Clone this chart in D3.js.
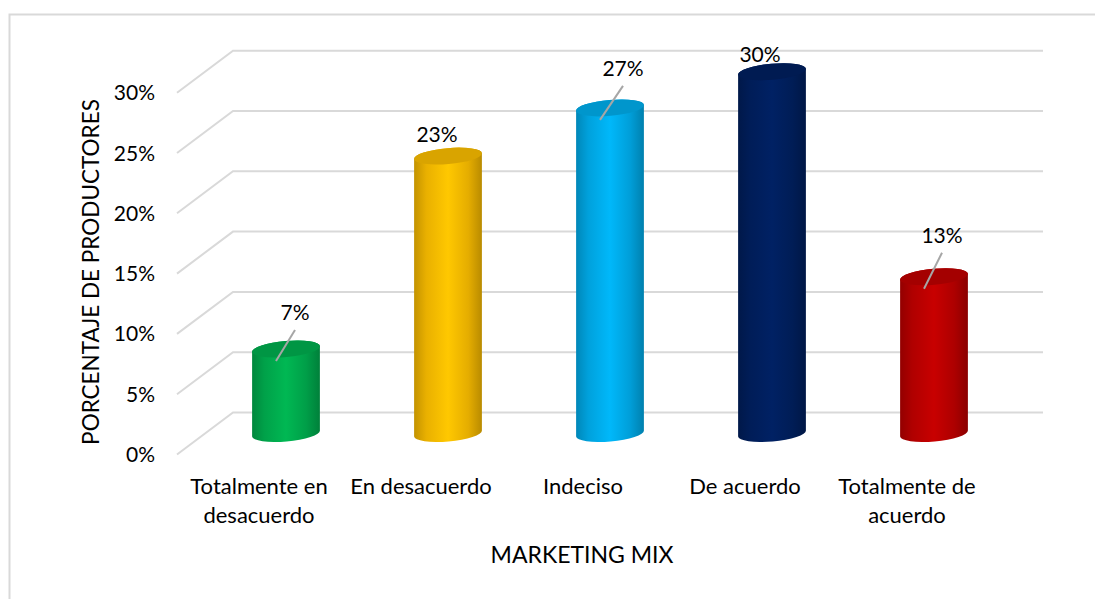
<!DOCTYPE html>
<html>
<head>
<meta charset="utf-8">
<script src="https://cdn.jsdelivr.net/npm/d3@7"></script>
<style>
  body { margin: 0; background: #fff; }
  svg text { font-family: Lato, "Open Sans", sans-serif; fill: #000; }
</style>
</head>
<body>
<svg id="chart" width="1095" height="599"></svg>
<script>
"use strict";

// data
var categories = [ ["Totalmente en", "desacuerdo"], ["En desacuerdo"], ["Indeciso"], ["De acuerdo"], ["Totalmente de", "acuerdo"] ];
var values = [ 0.07, 0.23, 0.27, 0.30, 0.13 ];
var valueLabels = [ "7%", "23%", "27%", "30%", "13%" ];
var tickValues = [ 0, 0.05, 0.10, 0.15, 0.20, 0.25, 0.30 ];
var tickLabels = [ "0%", "5%", "10%", "15%", "20%", "25%", "30%" ];
var barColors = [ "#00b050", "#ffc000", "#00b0f0", "#002060", "#c00000" ];

// label placement tweaks (as in the original, labels were dragged by hand)
var labelDx = [ 9, -11, 13, -12, 8 ];
var labelDy = [ -29, -14, -32, -10, -34 ];
var showLeader = [ true, false, true, false, true ];

var svg = d3.select("#chart");
var defs = svg.append("defs");

// depth of the 3d floor
var depthX = 56, depthY = -42;

var y = d3.scaleLinear().domain( [0, 0.30] ).range( [412.5, 50.7] );
var x = d3.scaleBand().domain( d3.range(categories.length) ).range( [177, 987] );

// frame
svg.append("rect")
  .attr( "x", 9.5 ).attr( "y", 14.5 )
  .attr( "width", 1200 ).attr( "height", 700 )
  .style( "fill", "none" )
  .style( "stroke", "#d9d9d9" )
  .style( "stroke-width", 2 );

// gridlines: side wall diagonal + back wall
var grid = svg.append("g");
grid.selectAll("path")
  .data( tickValues )
  .enter().append("path")
  .attr( "d", function(t) {
    return "M177," + (y(t) - depthY) + "L" + (177 + depthX) + "," + y(t) + "L1043," + y(t);
  })
  .style( "fill", "none" )
  .style( "stroke", "#d9d9d9" )
  .style( "stroke-width", 2 );

// tick labels
svg.append("g").selectAll("text")
  .data( tickValues )
  .enter().append("text")
  .attr( "x", 155 )
  .attr( "y", function(t) { return y(t) - depthY + 7.5 })
  .attr( "text-anchor", "end" )
  .style( "font-size", "21px" )
  .text( function(d, i) { return tickLabels[i] });

// cylinders
var rx = x.bandwidth() * 0.21, ry = 8, tilt = -5;
var cosT = Math.cos( tilt * Math.PI / 180 ), sinT = Math.sin( tilt * Math.PI / 180 );

function cx(i) { return x(i) + x.bandwidth() / 2 + depthX / 2 }
function cyv(v) { return y(v) - depthY / 2 }

barColors.forEach( function(c, i) {
  var base = d3.color(c);
  var g = defs.append("linearGradient")
    .attr( "id", "grad" + i )
    .attr( "x1", "0%" ).attr( "x2", "100%" )
    .attr( "y1", "0%" ).attr( "y2", "0%" );
  var stops = [
    [0, base.darker(0.75)],
    [0.18, base.darker(0.25)],
    [0.5, base.brighter(0.12)],
    [0.8, base.darker(0.3)],
    [1, base.darker(0.9)]
  ];
  g.selectAll("stop").data( stops ).enter().append("stop")
    .attr( "offset", function(d) { return d[0] } )
    .attr( "stop-color", function(d) { return d[1].formatHex() } );
});

var bars = svg.append("g").selectAll("g")
  .data( values )
  .enter().append("g");

bars.append("path")
  .attr( "d", function(v, i) {
    var c = cx(i), top = cyv(v), bot = cyv(0);
    var lx = c - rx * cosT, ly = -rx * sinT, rxp = c + rx * cosT;
    return "M" + lx + "," + (top + ly) +
      "L" + lx + "," + (bot + ly) +
      "A" + rx + "," + ry + " " + tilt + " 0 0 " + rxp + "," + (bot - ly) +
      "L" + rxp + "," + (top - ly) +
      "A" + rx + "," + ry + " " + tilt + " 0 0 " + lx + "," + (top + ly) + "Z";
  })
  .style( "fill", function(v, i) { return "url(#grad" + i + ")" } );

bars.append("ellipse")
  .attr( "cx", function(v, i) { return cx(i) } )
  .attr( "cy", function(v) { return cyv(v) } )
  .attr( "rx", rx )
  .attr( "ry", ry )
  .attr( "transform", function(v, i) { return "rotate(" + tilt + "," + cx(i) + "," + cyv(v) + ")" } )
  .style( "fill", function(v, i) { return d3.color( barColors[i] ).darker(0.45).formatHex() } );

// leader lines
bars.append("line")
  .attr( "x1", function(v, i) { return cx(i) + labelDx[i] } )
  .attr( "y1", function(v, i) { return cyv(v) + labelDy[i] + 10 } )
  .attr( "x2", function(v, i) { return cx(i) - 10 } )
  .attr( "y2", function(v) { return cyv(v) + 12 } )
  .style( "display", function(v, i) { return showLeader[i] ? null : "none" } )
  .style( "stroke", "#a6a6a6" )
  .style( "stroke-width", 2 );

// value labels
bars.append("text")
  .attr( "x", function(v, i) { return cx(i) + labelDx[i] } )
  .attr( "y", function(v, i) { return cyv(v) + labelDy[i] } )
  .attr( "text-anchor", "middle" )
  .style( "font-size", "21px" )
  .text( function(v, i) { return valueLabels[i] } );

// category labels
var cat = svg.append("g").selectAll("text")
  .data( categories )
  .enter().append("text")
  .attr( "text-anchor", "middle" )
  .attr( "transform", function(d, i) { return "translate(" + (x(i) + x.bandwidth() / 2 + 1) + ",494)" } )
  .style( "font-size", "22px" );
cat.selectAll("tspan")
  .data( function(d) { return d } )
  .enter().append("tspan")
  .attr( "x", 0 )
  .attr( "y", function(d, j) { return j * 29 } )
  .text( function(d) { return d } );

// axis titles
svg.append("text")
  .attr( "transform", "translate(99,272) rotate(-90)" )
  .attr( "text-anchor", "middle" )
  .style( "font-size", "22.5px" )
  .text( "PORCENTAJE DE PRODUCTORES" );

svg.append("text")
  .attr( "x", 582 )
  .attr( "y", 563 )
  .attr( "text-anchor", "middle" )
  .style( "font-size", "23px" )
  .text( "MARKETING MIX" );
</script>
</body>
</html>
